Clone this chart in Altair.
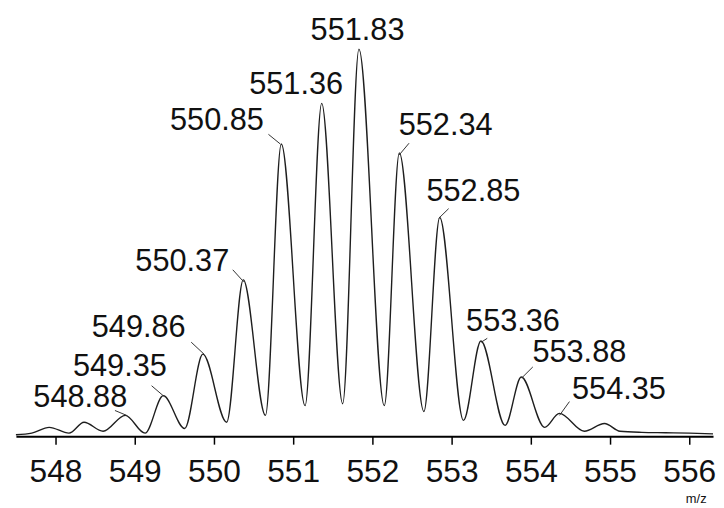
import altair as alt
import pandas as pd

# ---- spectrum trace (m/z, relative intensity) ----
trace_mz = [547.50, 547.70, 547.92, 548.17, 548.36, 548.60, 548.88, 549.13,
            549.36, 549.63, 549.86, 550.16, 550.37, 550.65, 550.85, 551.15,
            551.36, 551.625, 551.83, 552.15, 552.34, 552.65, 552.85, 553.15,
            553.37, 553.675, 553.88, 554.175, 554.36, 554.675, 554.93, 555.125,
            555.40, 555.70, 556.00, 556.30]
trace_int = [0.4, 0.8, 2.3, 0.8, 3.6, 1.3, 5.4, 0.8,
             10.5, 2.0, 21.2, 3.6, 40.4, 5.4, 75.5, 7.9,
             86.0, 8.4, 100.0, 7.9, 73.2, 6.4, 56.5, 4.1,
             24.6, 2.8, 15.3, 2.3, 5.9, 1.3, 3.3, 1.3,
             1.0, 0.9, 0.8, 0.6]

# ---- peak labels ----
peak_labels = ["548.88", "549.35", "549.86", "550.37", "550.85", "551.36",
               "551.83", "552.34", "552.85", "553.36", "553.88", "554.35"]
# label placement (centre of text, in data units)
label_mz = [548.3125, 548.8125, 549.05, 549.60, 550.0375, 551.0375,
            551.8125, 552.925, 553.275, 553.775, 554.6125, 555.1125]
label_int = [9.8, 17.8, 28.0, 45.0, 81.35, 90.6,
             104.6, 80.1, 63.2, 29.6, 21.5, 12.0]

# leader lines (start near label, end at peak) for labelled peaks that have one
lead_mz1 = [548.75, 549.2125, 549.7125, 550.2375, 550.6875, 552.4625,
            552.9625, 553.45, 554.025, 554.4875]
lead_int1 = [6.65, 13.05, 24.3, 43.0, 78.0, 75.7, 58.8, 25.3, 17.9, 8.95]
lead_mz2 = [548.90, 549.375, 549.875, 550.375, 550.8375, 552.3375,
            552.8375, 553.375, 553.8875, 554.3625]
lead_int2 = [5.37, 10.2, 21.2, 39.9, 75.5, 72.65, 56.3, 24.3, 15.1, 5.4]

tick_values = [548, 549, 550, 551, 552, 553, 554, 555, 556]

trace = pd.DataFrame({"mz": trace_mz, "I": trace_int})
labels = pd.DataFrame({"lx": label_mz, "ly": label_int, "label": peak_labels})
leads = pd.DataFrame({"x1": lead_mz1, "y1": lead_int1, "x2": lead_mz2, "y2": lead_int2})

xscale = alt.Scale(domain=[547.5, 556.3], nice=False, zero=False)
yscale = alt.Scale(domain=[0, 110], nice=False, zero=True)

FONT = "Liberation Sans"

line = alt.Chart(trace).mark_line(
    interpolate="monotone", color="#1e1e1e", strokeWidth=1.4
).encode(
    x=alt.X("mz:Q", scale=xscale,
            axis=alt.Axis(values=tick_values, format="d", grid=False,
                          domainColor="#000", domainWidth=2,
                          tickColor="#000", tickWidth=1.5, tickSize=8,
                          labelFont=FONT, labelFontSize=32, labelColor="#111",
                          labelPadding=13, labelOverlap=False, labelFlush=False,
                          title="m/z", titleFont=FONT, titleFontSize=13,
                          titleFontWeight="normal", titleColor="#111",
                          titleAnchor="end", titleAlign="right",
                          titleX=697, titleY=67, titleBaseline="alphabetic")),
    y=alt.Y("I:Q", scale=yscale, axis=None),
)

rules = alt.Chart(leads).mark_rule(color="#333", strokeWidth=1).encode(
    x=alt.X("x1:Q", scale=xscale), y=alt.Y("y1:Q", scale=yscale),
    x2="x2:Q", y2="y2:Q",
)

texts = alt.Chart(labels).mark_text(
    font=FONT, fontSize=31, color="#111", align="center", baseline="middle"
).encode(
    x=alt.X("lx:Q", scale=xscale), y=alt.Y("ly:Q", scale=yscale), text="label:N"
)

chart = alt.layer(line, rules, texts).properties(
    width=704, height=430,
    padding={"left": 5, "top": 0, "right": 0, "bottom": 0},
    background="white",
).configure_view(stroke=None)

chart.save("out.html", embed_options={"renderer": "svg", "actions": False})
